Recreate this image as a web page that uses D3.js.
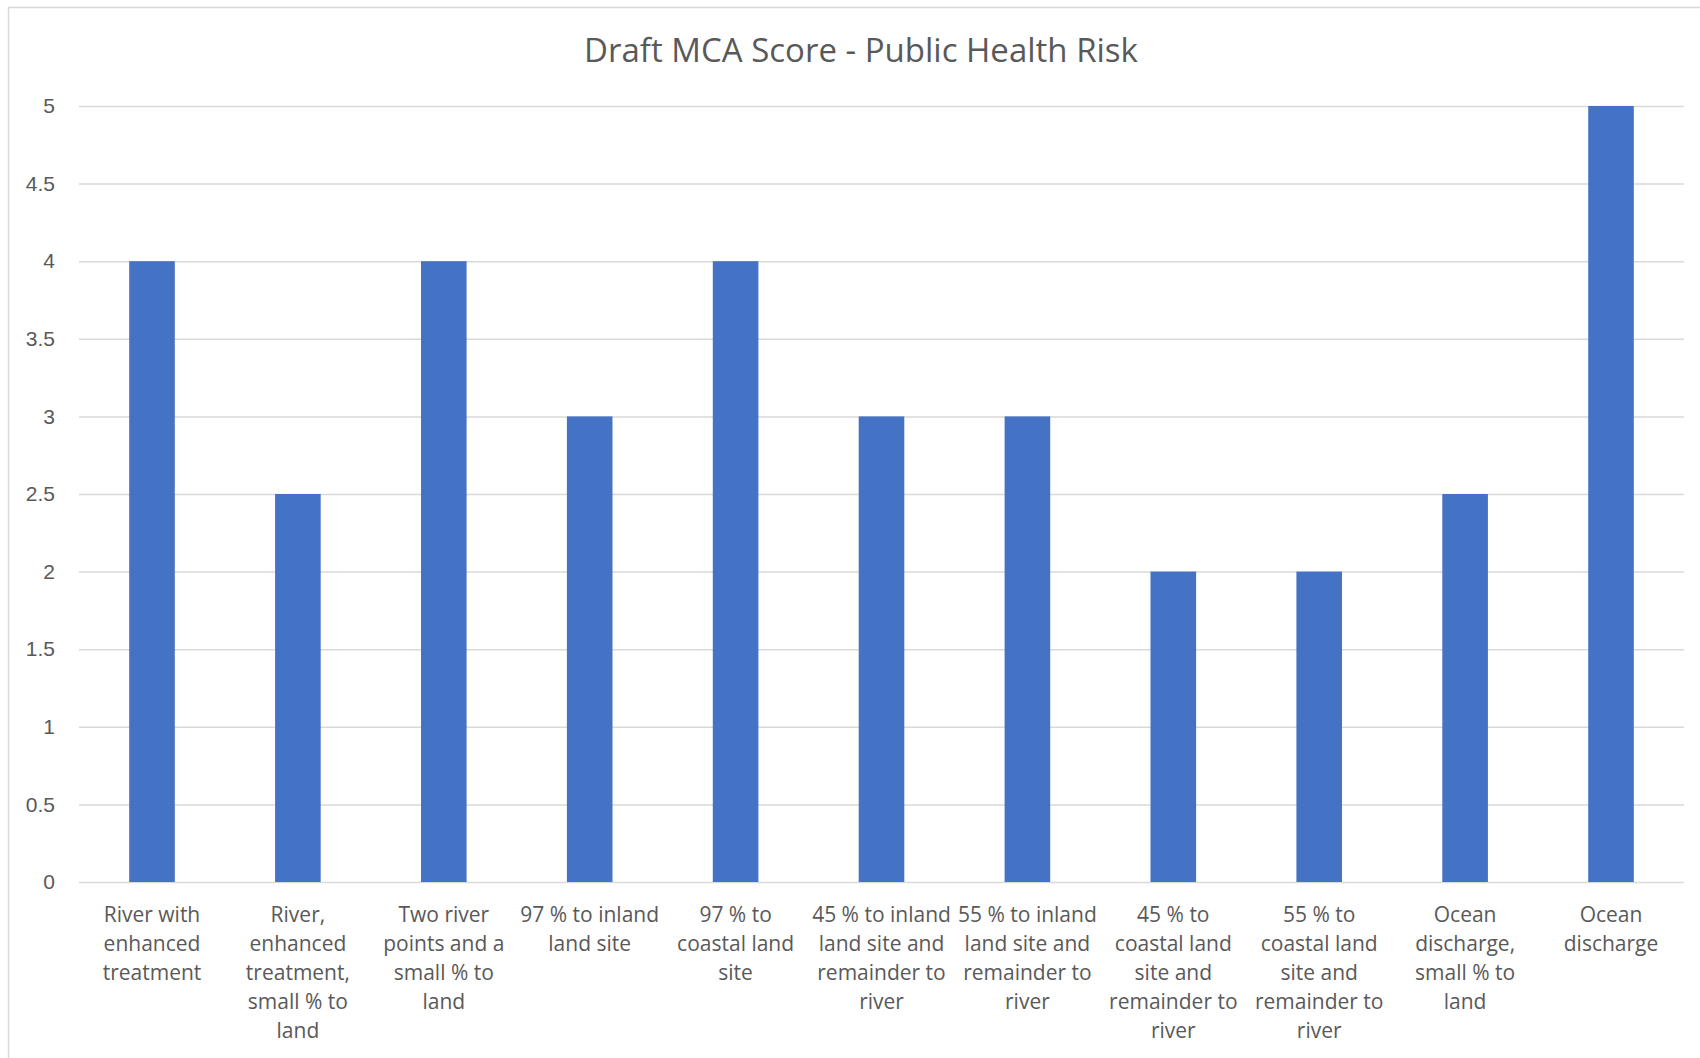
<!DOCTYPE html>
<html>
<head>
<meta charset="utf-8">
<script src="https://cdn.jsdelivr.net/npm/d3@7"></script>
<style>
  body { margin: 0; background: #fff; }
  svg { display: block; font-family: "Open Sans", "Noto Sans", sans-serif; }
</style>
</head>
<body>
<div class="container"></div>
<script>
// chart data
var title = "Draft MCA Score - Public Health Risk";
var categories = [
  "River with\nenhanced\ntreatment",
  "River,\nenhanced\ntreatment,\nsmall % to\nland",
  "Two river\npoints and a\nsmall % to\nland",
  "97 % to inland\nland site",
  "97 % to\ncoastal land\nsite",
  "45 % to inland\nland site and\nremainder to\nriver",
  "55 % to inland\nland site and\nremainder to\nriver",
  "45 % to\ncoastal land\nsite and\nremainder to\nriver",
  "55 % to\ncoastal land\nsite and\nremainder to\nriver",
  "Ocean\ndischarge,\nsmall % to\nland",
  "Ocean\ndischarge"
];
var scores = [4, 2.5, 4, 3, 4, 3, 3, 2, 2, 2.5, 5];
var yTicks = [0, 0.5, 1, 1.5, 2, 2.5, 3, 3.5, 4, 4.5, 5];

var width = 1700;
var height = 1058;
var margin = {top: 106, right: 16, bottom: 176, left: 79};

var svg = d3.select(".container").append("svg")
            .attr("width", width)
            .attr("height", height);

// chart area border (runs off the right and bottom edges)
svg.append("rect")
   .attr("x", 8.5).attr("y", 7.5)
   .attr("width", 1706).attr("height", 1080)
   .attr("fill", "none")
   .attr("stroke", "#d9d9d9")
   .attr("stroke-width", 1.5);

svg.append("text")
   .attr("x", 861)
   .attr("y", 62)
   .attr("text-anchor", "middle")
   .attr("fill", "#595959")
   .style("font-size", "33px")
   .text(title);

var x = d3.scaleBand()
          .domain(d3.range(categories.length))
          .range([margin.left, width - margin.right])
          .paddingInner(0.6875)
          .paddingOuter(0.344);

var y = d3.scaleLinear()
          .domain([0, 5])
          .range([height - margin.bottom, margin.top]);

// gridlines + y labels
var yAxis = d3.axisLeft(y)
              .tickValues(yTicks)
              .tickSize(-(width - margin.right - margin.left))
              .tickPadding(24)
              .tickFormat(d3.format("~g"));

var gy = svg.append("g")
            .attr("transform", `translate(${margin.left},0)`)
            .call(yAxis);
gy.select(".domain").remove();
gy.selectAll(".tick line")
  .attr("stroke", "#d9d9d9")
  .attr("stroke-width", 1.5);
gy.selectAll(".tick text")
  .attr("fill", "#595959")
  .style("font-size", "21px");

// bars
svg.append("g")
   .selectAll("rect")
   .data(scores)
   .join("rect")
   .attr("x", (d, i) => x(i))
   .attr("y", d => y(d))
   .attr("width", x.bandwidth())
   .attr("height", d => y(0) - y(d))
   .attr("fill", "#4472c4");

// category labels
var labels = svg.append("g")
   .selectAll("text")
   .data(categories)
   .join("text")
   .attr("text-anchor", "middle")
   .attr("fill", "#595959")
   .style("font-size", "21px")
   .attr("transform", (d, i) => `translate(${x(i) + x.bandwidth() / 2},${y(0) + 40})`);

labels.selectAll("tspan")
      .data(d => d.split("\n"))
      .join("tspan")
      .attr("x", 0)
      .attr("y", (d, j) => j * 29)
      .text(d => d);
</script>
</body>
</html>
